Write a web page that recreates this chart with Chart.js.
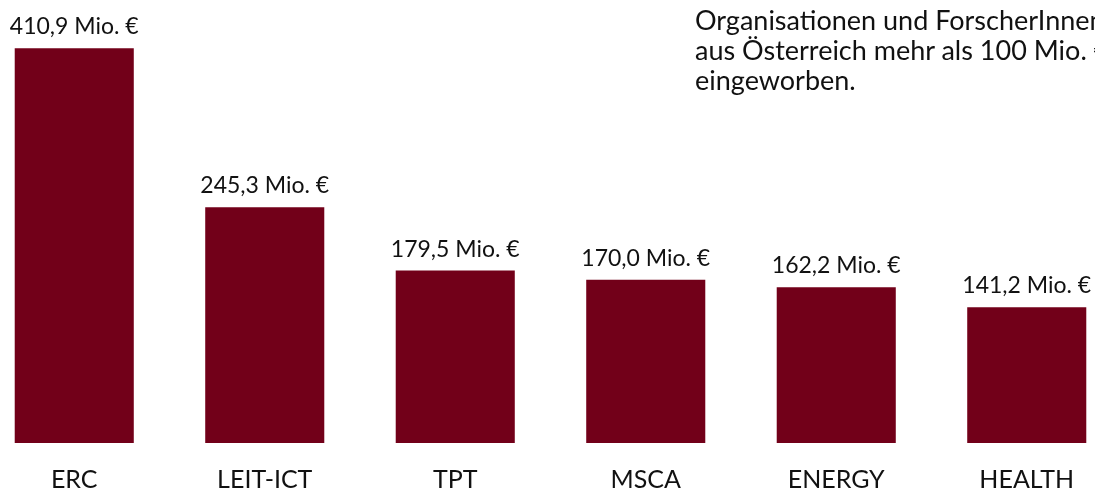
<!DOCTYPE html>
<html>
<head>
<meta charset="utf-8">
<script src="https://cdn.jsdelivr.net/npm/chart.js@4/dist/chart.umd.min.js"></script>
<style>
  html, body { margin: 0; padding: 0; background: #fff; overflow: hidden; width: 1095px; height: 493px; }
  #caja { position: absolute; left: -21px; top: 0; width: 1143px; height: 493px; }
  #nota { position: absolute; left: 695px; top: 5px; font-family: Lato, "Open Sans", sans-serif; font-size: 27px; line-height: 30px; color: #111; white-space: nowrap; }
</style>
</head>
<body>
<div id="caja"><canvas id="grafico"></canvas></div>
<div id="nota">Organisationen und ForscherInnen<br>aus Österreich mehr als 100 Mio. €<br>eingeworben.</div>
<script>
// datos
const categorias = ['ERC', 'LEIT-ICT', 'TPT', 'MSCA', 'ENERGY', 'HEALTH'];
const valores = [410.9, 245.3, 179.5, 170.0, 162.2, 141.2];
const etiquetas = ['410,9 Mio. €', '245,3 Mio. €', '179,5 Mio. €', '170,0 Mio. €', '162,2 Mio. €', '141,2 Mio. €'];

// etiquetas encima de cada barra
const etiquetasPlugin = {
    id: 'etiquetas',
    afterDatasetsDraw(chart) {
        const { ctx } = chart;
        const meta = chart.getDatasetMeta(0);
        ctx.save();
        ctx.font = '23px Lato, "Open Sans", sans-serif';
        ctx.fillStyle = '#111';
        ctx.textAlign = 'center';
        ctx.textBaseline = 'alphabetic';
        meta.data.forEach((barra, i) => {
            ctx.fillText(etiquetas[i], barra.x, barra.y - 14);
        });
        ctx.restore();
    }
};

const ctx = document.getElementById('grafico').getContext('2d');
new Chart(ctx, {
    type: 'bar',
    data: {
        labels: categorias,
        datasets: [{
            data: valores,
            backgroundColor: '#720019',
            borderWidth: 0,
            categoryPercentage: 1,
            barPercentage: 0.625
        }]
    },
    options: {
        responsive: true,
        maintainAspectRatio: false,
        animation: false,
        layout: { padding: 0 },
        plugins: {
            legend: { display: false },
            tooltip: { enabled: false }
        },
        scales: {
            y: { display: false, min: 0, max: 461 },
            x: {
                grid: { display: false, drawTicks: false },
                border: { display: false },
                afterFit: escala => { escala.height = 50; },
                ticks: {
                    padding: 22,
                    color: '#111',
                    font: { family: 'Lato, "Open Sans", sans-serif', size: 25 }
                }
            }
        }
    },
    plugins: [etiquetasPlugin]
});
</script>
</body>
</html>
